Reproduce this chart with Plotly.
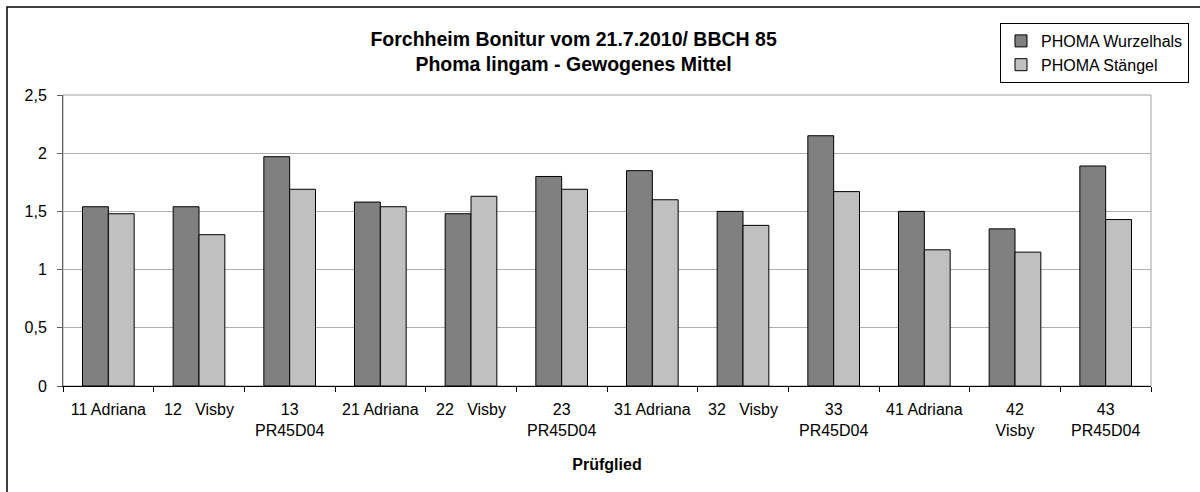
import plotly.graph_objects as go

categories = [
    "11 Adriana", "12\u00a0\u00a0\u00a0Visby", "13<br>PR45D04",
    "21 Adriana", "22\u00a0\u00a0\u00a0Visby", "23<br>PR45D04",
    "31 Adriana", "32\u00a0\u00a0\u00a0Visby", "33<br>PR45D04",
    "41 Adriana", "42<br>Visby", "43<br>PR45D04",
]
wurzelhals = [1.54, 1.54, 1.97, 1.58, 1.48, 1.80, 1.85, 1.50, 2.15, 1.50, 1.35, 1.89]
staengel = [1.48, 1.30, 1.69, 1.54, 1.63, 1.69, 1.60, 1.38, 1.67, 1.17, 1.15, 1.43]
series_names = ["PHOMA Wurzelhals", "PHOMA Stängel"]
y_ticks = [0, 0.5, 1, 1.5, 2, 2.5]

FONT = "Liberation Sans, Arial, sans-serif"

fig = go.Figure()
fig.add_trace(go.Bar(x=categories, y=wurzelhals, name=series_names[0],
                     marker=dict(color="#808080", line=dict(color="#000000", width=1))))
fig.add_trace(go.Bar(x=categories, y=staengel, name=series_names[1],
                     marker=dict(color="#C0C0C0", line=dict(color="#000000", width=1))))

fig.update_layout(
    width=1200, height=492,
    margin=dict(l=63, r=49, t=95, b=106, autoexpand=False),
    paper_bgcolor="white", plot_bgcolor="white",
    separators=", ",
    font=dict(family=FONT, size=16, color="#000000"),
    barmode="group", bargap=0.43, bargroupgap=0,
    title=dict(
        text="<b>Forchheim Bonitur vom 21.7.2010/ BBCH 85<br>Phoma lingam - Gewogenes Mittel</b>",
        x=0.478, xref="container", xanchor="center",
        y=1 - 46 / 492, yref="container", yanchor="middle",
        font=dict(family=FONT, size=19.5, color="#000000"),
    ),
    legend=dict(
        x=1189 / 1200, xref="container", xanchor="right",
        y=1 - 23 / 492, yref="container", yanchor="top",
        bgcolor="white", bordercolor="#000000", borderwidth=1,
        font=dict(family=FONT, size=16),
        tracegroupgap=0, itemwidth=30,
    ),
    showlegend=True,
    xaxis=dict(
        type="category", tickson="boundaries",
        ticks="outside", ticklen=5, tickcolor="#000000",
        showline=True, linecolor="#000000", linewidth=1,
        showgrid=False, tickangle=0, ticklabelstandoff=9,
        tickfont=dict(family=FONT, size=16),
        title=dict(text="<b>Prüfglied</b>", font=dict(family=FONT, size=16), standoff=20),
    ),
    yaxis=dict(
        range=[0, 2.5], tickvals=y_ticks, tickformat=".1~f",
        ticks="outside", ticklen=5, tickcolor="#606060",
        showline=True, linecolor="#606060", linewidth=1,
        showgrid=True, gridcolor="#b0b0b0", gridwidth=1,
        zeroline=False, ticklabelstandoff=7,
        tickfont=dict(family=FONT, size=16),
    ),
    shapes=[
        dict(type="rect", xref="paper", yref="paper", x0=0, x1=1, y0=0, y1=1,
             line=dict(color="#a0a0a0", width=1), layer="below"),
        dict(type="rect", xref="paper", yref="paper",
             x0=(7 - 63) / 1088, x1=1.2, y0=-0.6, y1=(386 - 7) / 291,
             line=dict(color="#000000", width=1.5), layer="below"),
    ],
)

fig.write_html("out.html", config={"displayModeBar": False},
               post_script="document.body.style.margin='0';")
